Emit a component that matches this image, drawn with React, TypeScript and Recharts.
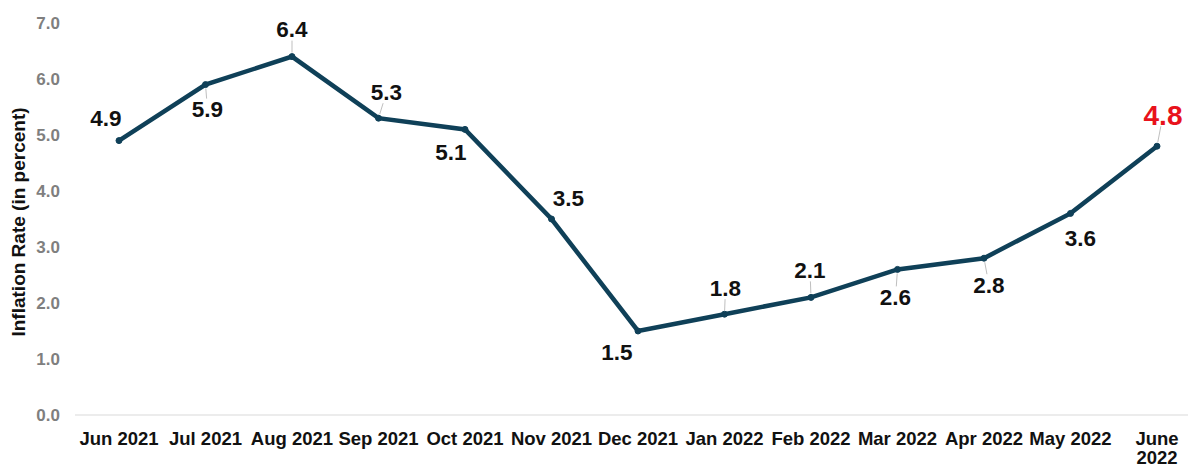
import React from 'react';
import { LineChart, Line, XAxis, YAxis } from 'recharts';

const months = [
  'Jun 2021', 'Jul 2021', 'Aug 2021', 'Sep 2021', 'Oct 2021', 'Nov 2021', 'Dec 2021',
  'Jan 2022', 'Feb 2022', 'Mar 2022', 'Apr 2022', 'May 2022', 'June\n2022',
];
const inflation = [4.9, 5.9, 6.4, 5.3, 5.1, 3.5, 1.5, 1.8, 2.1, 2.6, 2.8, 3.6, 4.8];
const yTicks = [0, 1, 2, 3, 4, 5, 6, 7];

// label centre offset from its point (dx, dy), picked by eye
const labelOffsets = [
  [-13, -22], [2, 25], [0, -27], [8, -26], [-14, 23], [17, -21], [-21, 21],
  [1, -26], [-1, -27], [-2, 28], [5, 27], [10, 25], [6, -31],
];

const FONT = '"Liberation Sans", Arial, sans-serif';
const LINE_COLOR = '#0f4058';

const data = months.map((m, i) => ({ month: m, rate: inflation[i] }));

const XTick = ({ x, y, payload }: any) => {
  const lines = String(payload.value).split('\n');
  return (
    <text x={x} y={y + 22} textAnchor="middle" fontFamily={FONT} fontWeight={700} fontSize={18.5} fill="#111">
      {lines.map((l, i) => (
        <tspan key={i} x={x} dy={i === 0 ? 0 : 19}>{l}</tspan>
      ))}
    </text>
  );
};

const YTick = ({ y, payload }: any) => (
  <text x={60} y={y} textAnchor="end" dominantBaseline="central" fontFamily={FONT} fontWeight={700} fontSize={17} fill="#7f7f7f">
    {Number(payload.value).toFixed(1)}
  </text>
);

const YTitle = ({ viewBox }: any) => {
  const cx = 18;
  const cy = viewBox.y + viewBox.height / 2 + 3;
  return (
    <text x={cx} y={cy} transform={`rotate(-90, ${cx}, ${cy})`} textAnchor="middle" dominantBaseline="central"
      fontFamily={FONT} fontWeight={700} fontSize={19} fill="#111">
      Inflation Rate (in percent)
    </text>
  );
};

const renderLabel = ({ x, y, index, value }: any) => {
  const [dx, dy] = labelOffsets[index];
  const last = index === inflation.length - 1;
  const t1 = 4 / Math.abs(dy);
  const t2 = (Math.abs(dy) - 11) / Math.abs(dy);
  return (
    <g key={`lbl-${index}`}>
      {Math.abs(dx) < 10 && (
        <line x1={x + dx * t1} y1={y + dy * t1} x2={x + dx * t2} y2={y + dy * t2} stroke="#bfbfbf" strokeWidth={1} />
      )}
      <text x={x + dx} y={y + dy} textAnchor="middle" dominantBaseline="central" fontFamily={FONT} fontWeight={700}
        fontSize={last ? 28 : 22.5} fill={last ? '#e8121b' : '#111'}>
        {Number(value).toFixed(1)}
      </text>
    </g>
  );
};

export default function App() {
  return (
    <div style={{ position: 'absolute', left: 0, top: 0, background: '#fff' }}>
      <LineChart width={1188} height={468} data={data} margin={{ top: 23, right: 0, left: 0, bottom: 0 }}>
        <XAxis
          dataKey="month"
          height={53}
          padding={{ left: 44, right: 31 }}
          axisLine={{ stroke: '#d9d9d9', strokeWidth: 1 }}
          tickLine={false}
          interval={0}
          tick={<XTick />}
        />
        <YAxis
          width={75}
          domain={[0, 7]}
          ticks={yTicks}
          axisLine={false}
          tickLine={false}
          tick={<YTick />}
          label={<YTitle />}
        />
        <Line
          type="linear"
          dataKey="rate"
          stroke={LINE_COLOR}
          strokeWidth={4.5}
          dot={{ r: 3, fill: LINE_COLOR, stroke: LINE_COLOR, strokeWidth: 1 }}
          activeDot={false}
          label={renderLabel}
          isAnimationActive={false}
        />
      </LineChart>
    </div>
  );
}
